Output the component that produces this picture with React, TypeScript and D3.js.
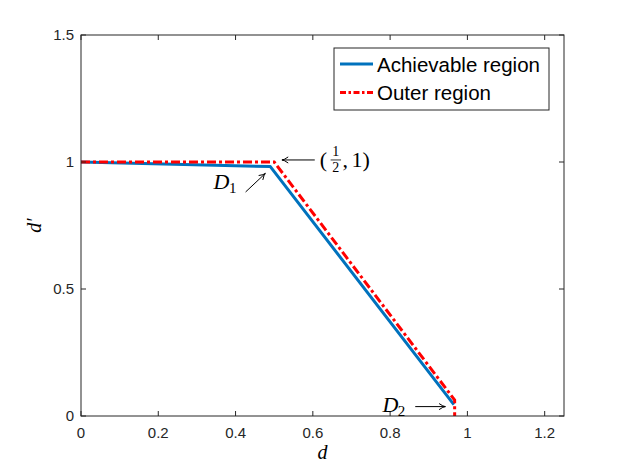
import React from "react";
import * as d3 from "d3";

// values
const achievableD = [0, 0.49, 0.965];
const achievableDp = [1, 0.982, 0.045];
const outerD = [0, 0.5, 0.967, 0.967];
const outerDp = [1, 1, 0.063, 0];
const xTicks = [0, 0.2, 0.4, 0.6, 0.8, 1, 1.2];
const yTicks = [0, 0.5, 1, 1.5];
const legendLabels = ["Achievable region", "Outer region"];

const W = 623;
const H = 467;
const margin = { left: 81, top: 35, right: 59, bottom: 51 };
const axisColor = "#262626";
const blue = "#0072BD";
const red = "#FF0000";

const App: React.FC = () => {
  const x = d3.scaleLinear().domain([0, 1.25]).range([margin.left, W - margin.right]);
  const y = d3.scaleLinear().domain([0, 1.5]).range([H - margin.bottom, margin.top]);
  const line = d3
    .line<[number, number]>()
    .x(d => x(d[0]))
    .y(d => y(d[1]));

  const blueData = achievableD.map((v, i) => [v, achievableDp[i]] as [number, number]);
  const redData = outerD.map((v, i) => [v, outerDp[i]] as [number, number]);

  const x0 = x(0), x1 = x(1.25), y0 = y(0), y1 = y(1.5);
  const tick = 5;
  const mathFont = "'Liberation Serif', 'DejaVu Serif', serif";
  const sansFont = "'Liberation Sans', Arial, sans-serif";

  // arrow helper: line with open head at (tx,ty)
  const arrow = (fx: number, fy: number, tx: number, ty: number) => {
    const a = Math.atan2(ty - fy, tx - fx);
    const h = 7;
    const s = 0.45;
    const p1 = [tx - h * Math.cos(a - s), ty - h * Math.sin(a - s)];
    const p2 = [tx - h * Math.cos(a + s), ty - h * Math.sin(a + s)];
    return (
      <g stroke="#000" strokeWidth={1} fill="none">
        <line x1={fx} y1={fy} x2={tx} y2={ty} />
        <path d={`M${p1[0]},${p1[1]} Q${tx - 2 * Math.cos(a)},${ty - 2 * Math.sin(a)} ${tx},${ty} Q${tx - 2 * Math.cos(a)},${ty - 2 * Math.sin(a)} ${p2[0]},${p2[1]}`} />
      </g>
    );
  };

  return (
    <div style={{ position: "absolute", left: 0, top: 0 }}>
      <svg width={W} height={H} style={{ display: "block", background: "#fff" }}>
        <rect x={0} y={0} width={W} height={H} fill="#fff" />
        <rect x={x0} y={y1} width={x1 - x0} height={y0 - y1} fill="#fff" />

        {/* data lines */}
        <path d={line(blueData) || ""} fill="none" stroke={blue} strokeWidth={3} strokeLinejoin="round" />
        <path d={line(redData) || ""} fill="none" stroke={red} strokeWidth={3} strokeDasharray="9,3,3,3" />

        {/* axes box */}
        <rect x={x0} y={y1} width={x1 - x0} height={y0 - y1} fill="none" stroke={axisColor} strokeWidth={1} />
        {xTicks.map(t => (
          <g key={"x" + t}>
            <line x1={x(t)} x2={x(t)} y1={y0} y2={y0 - tick} stroke={axisColor} />
            <line x1={x(t)} x2={x(t)} y1={y1} y2={y1 + tick} stroke={axisColor} />
            <text x={x(t)} y={y0 + 22} textAnchor="middle" fontFamily={sansFont} fontSize={15} fill={axisColor}>
              {d3.format("~g")(t)}
            </text>
          </g>
        ))}
        {yTicks.map(t => (
          <g key={"y" + t}>
            <line x1={x0} x2={x0 + tick} y1={y(t)} y2={y(t)} stroke={axisColor} />
            <line x1={x1} x2={x1 - tick} y1={y(t)} y2={y(t)} stroke={axisColor} />
            <text x={x0 - 7} y={y(t) + 5} textAnchor="end" fontFamily={sansFont} fontSize={15} fill={axisColor}>
              {d3.format("~g")(t)}
            </text>
          </g>
        ))}

        {/* axis labels */}
        <text x={(x0 + x1) / 2} y={459} textAnchor="middle" fontFamily={mathFont} fontStyle="italic" fontSize={20}>
          d
        </text>
        <text transform={`translate(41, ${(y0 + y1) / 2}) rotate(-90)`} textAnchor="middle" fontFamily={mathFont} fontStyle="italic" fontSize={20}>
          d′
        </text>

        {/* annotations */}
        {arrow(x(0.605), y(1.008), x(0.52), y(1.008))}
        <g fontFamily={mathFont} fontSize={22} fill="#000">
          <text x={x(0.618)} y={y(0.98)}>(</text>
          <text x={x(0.659)} y={y(1.022)} fontSize={14} textAnchor="middle">1</text>
          <line x1={x(0.646)} x2={x(0.673)} y1={y(1.008)} y2={y(1.008)} stroke="#000" strokeWidth={0.8} />
          <text x={x(0.659)} y={y(0.96)} fontSize={14} textAnchor="middle">2</text>
          <text x={x(0.677)} y={y(0.98)}>,</text>
          <text x={x(0.7)} y={y(0.98)}>1)</text>
        </g>

        <g fontFamily={mathFont} fontSize={22} fill="#000">
          <text x={x(0.343)} y={y(0.892)} fontStyle="italic">D</text>
          <text x={x(0.383)} y={y(0.876)} fontSize={15}>1</text>
        </g>
        {arrow(x(0.426), y(0.882), x(0.477), y(0.955))}

        <g fontFamily={mathFont} fontSize={22} fill="#000">
          <text x={x(0.78)} y={y(0.015)} fontStyle="italic">D</text>
          <text x={x(0.82)} y={y(0.0)} fontSize={15}>2</text>
        </g>
        {arrow(x(0.865), y(0.037), x(0.943), y(0.037))}

        {/* legend */}
        <g>
          <rect x={334} y={48} width={215} height={62} fill="#fff" stroke={axisColor} strokeWidth={1} />
          {legendLabels.map((lab, i) => {
            const cy = 64 + i * 28.5;
            return (
              <g key={lab}>
                <line
                  x1={340}
                  x2={373}
                  y1={cy}
                  y2={cy}
                  stroke={i === 0 ? blue : red}
                  strokeWidth={3}
                  strokeDasharray={i === 0 ? undefined : "6,2.5,2.5,2.5"}
                />
                <text x={377} y={cy + 7.5} fontFamily={sansFont} fontSize={20.5} fill="#000">
                  {lab}
                </text>
              </g>
            );
          })}
        </g>
      </svg>
    </div>
  );
};

export default App;
